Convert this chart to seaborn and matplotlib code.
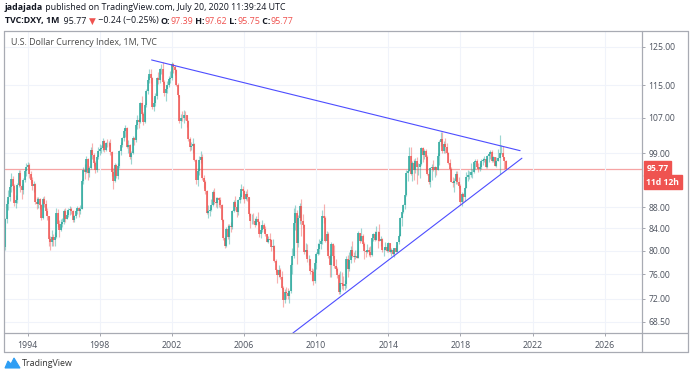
import numpy as np
import pandas as pd
import matplotlib
matplotlib.use("Agg")
import matplotlib.pyplot as plt
import matplotlib.transforms as mtransforms
from matplotlib.ticker import FixedLocator, FixedFormatter, NullLocator
from matplotlib.patches import Polygon
import seaborn as sns

# === monthly DXY candles, Oct 1992 .. Jul 2020 ===
start_month = "1992-10-01"
first_open = 80.6

close_px = [
    85.8, 88.7, 89.9,
    91.9, 93.6, 92.2, 88.9, 89.4, 92.4, 94.9, 92.1, 91.3, 93.3, 95.2, 96.1,
    96.5, 94.6, 93.3, 92.1, 92.6, 89.1, 88.7, 89.5, 88.4, 86.0, 89.5, 88.7,
    87.3, 86.3, 82.0, 81.6, 82.4, 81.9, 82.5, 86.9, 84.9, 83.8, 84.9, 85.2,
    87.3, 85.8, 86.5, 87.4, 87.6, 87.3, 85.6, 86.3, 87.3, 87.8, 87.2, 87.7,
    93.2, 95.5, 95.0, 97.8, 94.8, 95.9, 99.8, 98.7, 97.0, 95.4, 98.2, 99.6,
    99.9, 100.1, 101.8, 99.7, 101.3, 101.2, 101.3, 99.3, 95.0, 93.2, 96.5, 94.2,
    96.3, 99.5, 100.8, 102.3, 104.1, 104.6, 100.5, 100.8, 98.2, 99.0, 102.4, 101.9,
    105.3, 106.6, 106.1, 110.5, 108.0, 106.0, 110.1, 113.6, 116.2, 117.9, 116.8, 109.6,
    110.6, 112.3, 116.8, 116.4, 119.1, 119.2, 115.7, 112.9, 113.9, 115.0, 116.6, 116.8,
    120.4, 119.6, 118.8, 115.1, 112.4, 106.3, 107.1, 107.0, 107.8, 107.6, 106.4, 102.2,
    100.4, 100.6, 101.0, 97.6, 93.3, 95.2, 97.6, 98.3, 93.9, 92.9, 91.2, 86.9,
    87.3, 87.4, 88.5, 91.0, 89.1, 88.8, 89.8, 89.3, 88.4, 85.6, 82.2, 80.9,
    83.9, 82.5, 84.4, 84.2, 87.3, 89.1, 88.1, 87.1, 89.3, 89.9, 91.6, 91.2,
    89.6, 90.5, 89.9, 86.7, 85.4, 85.4, 85.3, 84.6, 85.8, 85.2, 82.9, 83.7,
    84.7, 83.9, 82.9, 81.6, 82.1, 81.9, 80.7, 80.9, 78.2, 76.7, 75.9, 76.7,
    75.5, 73.7, 71.8, 73.0, 72.9, 72.4, 73.2, 77.6, 79.0, 85.0, 86.8, 81.4,
    86.0, 88.3, 85.4, 84.6, 79.7, 80.1, 78.5, 78.5, 76.6, 76.3, 74.9, 77.9,
    79.5, 80.3, 81.1, 81.8, 86.4, 86.0, 81.7, 83.0, 79.0, 77.5, 81.1, 79.0,
    77.4, 76.8, 75.9, 73.0, 74.6, 74.3, 74.0, 74.3, 78.6, 76.8, 78.4, 80.2,
    79.1, 78.9, 79.0, 78.8, 83.2, 81.7, 82.6, 81.2, 79.9, 79.8, 80.1, 79.8,
    79.2, 82.2, 83.0, 81.9, 83.4, 83.3, 81.8, 82.1, 80.2, 80.2, 80.7, 80.0,
    81.3, 79.7, 80.1, 79.5, 80.4, 79.8, 81.5, 82.7, 86.0, 87.0, 88.4, 90.3,
    94.8, 95.3, 98.4, 94.6, 96.9, 95.5, 97.3, 96.0, 96.2, 96.8, 100.2, 98.6,
    99.6, 98.2, 94.6, 93.0, 95.9, 96.1, 95.5, 96.0, 95.4, 98.4, 101.5, 102.2,
    99.5, 101.1, 100.4, 99.1, 97.0, 95.6, 92.9, 92.7, 93.1, 94.6, 93.0, 92.1,
    89.1, 90.6, 90.0, 91.8, 94.0, 94.5, 94.5, 95.1, 95.1, 97.1, 97.3, 96.2,
    95.6, 96.2, 97.3, 97.5, 97.8, 96.1, 98.5, 98.9, 99.4, 97.4, 98.3, 96.4,
    97.4, 98.1, 99.0, 99.0, 98.3, 97.39, 95.77,
]
high_px = [
    86.0, 89.4, 91.4,
    92.6, 94.8, 94.3, 92.5, 90.4, 92.8, 95.5, 95.4, 92.6, 93.8, 95.6, 96.9,
    97.2, 96.9, 95.2, 94.0, 93.2, 92.8, 89.9, 90.0, 89.7, 88.6, 90.0, 90.2,
    89.4, 87.9, 86.4, 82.6, 83.8, 82.9, 83.4, 87.8, 87.6, 85.6, 85.7, 85.9,
    87.7, 87.8, 87.2, 87.9, 88.2, 88.0, 87.5, 86.6, 87.7, 88.3, 88.0, 88.4,
    93.6, 96.2, 96.7, 98.4, 98.1, 96.4, 100.5, 101.2, 99.2, 97.4, 98.6, 100.4,
    101.0, 100.9, 102.3, 101.9, 101.6, 102.2, 101.8, 102.1, 99.6, 95.8, 97.0, 96.8,
    96.9, 99.8, 101.4, 102.6, 104.6, 105.3, 104.9, 102.0, 101.0, 99.6, 102.8, 102.6,
    105.6, 107.6, 107.1, 110.7, 112.3, 108.3, 110.5, 114.0, 117.4, 119.2, 119.0, 117.0,
    112.1, 113.1, 117.1, 118.3, 119.5, 120.5, 121.0, 116.3, 114.9, 116.0, 117.2, 118.6,
    120.9, 120.8, 120.2, 119.0, 115.4, 112.6, 107.9, 108.6, 108.9, 108.6, 107.8, 106.6,
    102.7, 101.5, 102.5, 101.3, 97.9, 95.8, 98.5, 99.6, 98.8, 94.5, 93.4, 91.3,
    88.4, 88.1, 89.6, 91.4, 91.7, 89.9, 90.0, 90.0, 89.9, 88.6, 85.7, 82.6,
    84.3, 84.9, 84.8, 85.2, 87.5, 89.4, 90.1, 88.6, 89.6, 90.7, 92.6, 92.1,
    91.4, 91.2, 91.5, 90.0, 86.9, 86.7, 86.8, 85.9, 86.4, 87.1, 85.3, 84.6,
    85.5, 85.0, 84.4, 83.0, 82.6, 83.1, 82.0, 82.0, 81.0, 78.6, 76.9, 77.5,
    77.0, 76.5, 74.0, 73.5, 73.9, 73.7, 73.4, 77.9, 80.4, 87.9, 88.5, 87.4,
    86.5, 88.9, 89.6, 86.7, 84.9, 81.4, 81.2, 79.3, 78.5, 77.1, 76.9, 78.5,
    79.7, 81.3, 82.0, 82.3, 87.4, 88.7, 86.3, 83.5, 83.4, 79.4, 81.5, 81.4,
    81.0, 78.6, 77.2, 76.2, 76.5, 76.3, 75.7, 75.0, 79.1, 79.3, 79.8, 80.8,
    81.8, 79.7, 80.2, 80.1, 83.5, 83.0, 84.1, 83.0, 81.6, 80.2, 81.2, 80.6,
    80.8, 82.3, 83.2, 83.6, 84.5, 83.5, 84.8, 82.6, 82.3, 80.6, 81.5, 81.2,
    81.5, 81.4, 80.4, 80.3, 80.5, 81.0, 81.6, 82.9, 86.1, 87.1, 88.6, 90.4,
    95.5, 95.5, 100.4, 100.3, 97.3, 97.8, 98.1, 98.3, 96.9, 97.8, 100.5, 100.5,
    100.0, 99.9, 98.6, 95.1, 96.0, 96.7, 97.6, 96.3, 96.1, 99.1, 102.0, 103.7,
    103.8, 101.8, 102.3, 101.3, 99.3, 97.8, 96.0, 94.1, 93.8, 95.2, 95.2, 94.0,
    92.5, 90.9, 90.7, 91.9, 95.0, 95.5, 95.2, 96.9, 95.7, 97.2, 97.7, 97.7,
    96.9, 97.0, 97.7, 98.0, 98.4, 97.8, 98.7, 99.0, 99.7, 99.7, 98.5, 98.3,
    98.2, 99.9, 103.0, 100.9, 100.6, 98.3, 97.62,
]
low_px = [
    80.2, 85.0, 87.5,
    89.2, 91.0, 91.3, 88.3, 87.9, 88.8, 92.0, 91.0, 89.6, 90.5, 93.0, 94.2,
    95.4, 93.9, 92.8, 91.4, 90.9, 88.7, 87.6, 87.9, 87.7, 85.6, 85.8, 88.1,
    86.5, 85.6, 80.9, 80.1, 80.9, 80.9, 80.9, 82.3, 84.3, 82.5, 83.5, 84.3,
    84.9, 85.2, 85.7, 86.2, 86.6, 86.7, 85.2, 85.1, 85.9, 86.7, 86.1, 86.7,
    87.6, 92.5, 93.6, 94.9, 93.3, 94.0, 95.7, 97.9, 96.3, 94.9, 95.0, 97.8,
    98.6, 99.0, 99.6, 99.3, 99.6, 100.5, 100.7, 98.7, 94.3, 91.6, 93.0, 93.8,
    93.6, 95.9, 98.6, 100.4, 101.7, 102.7, 100.1, 99.2, 97.9, 96.8, 98.8, 100.9,
    101.5, 104.5, 104.7, 105.8, 107.7, 105.3, 105.8, 109.5, 112.8, 115.5, 115.6, 109.1,
    108.6, 109.9, 111.6, 115.3, 115.6, 117.8, 115.2, 112.3, 111.0, 113.1, 114.5, 115.5,
    116.3, 118.1, 117.5, 114.8, 112.0, 105.8, 104.7, 106.2, 105.9, 106.5, 104.9, 101.8,
    99.5, 99.7, 99.0, 97.3, 92.6, 92.1, 94.5, 96.9, 93.5, 91.7, 90.6, 86.7,
    85.9, 86.3, 87.2, 88.2, 88.6, 88.0, 87.9, 88.1, 87.8, 85.3, 81.9, 80.4,
    80.6, 82.0, 81.2, 83.3, 83.9, 87.0, 87.5, 86.1, 86.6, 88.8, 89.6, 89.6,
    88.9, 89.4, 89.2, 86.4, 84.0, 84.9, 84.8, 84.3, 84.7, 84.9, 82.4, 82.2,
    83.3, 83.4, 82.6, 81.5, 81.4, 81.7, 79.9, 80.2, 78.0, 76.3, 74.6, 75.5,
    75.2, 73.6, 70.7, 71.3, 72.0, 71.9, 71.3, 72.9, 76.0, 78.7, 83.7, 77.7,
    80.7, 84.8, 82.6, 84.1, 79.4, 79.0, 78.1, 77.5, 76.0, 74.9, 74.2, 74.5,
    76.8, 79.2, 79.5, 80.3, 81.2, 85.0, 81.5, 80.1, 78.7, 75.6, 75.6, 78.8,
    77.0, 76.6, 75.3, 72.8, 72.7, 73.5, 73.4, 73.4, 73.8, 75.6, 76.5, 77.9,
    78.9, 78.1, 78.6, 78.7, 78.9, 81.3, 82.0, 80.9, 78.6, 78.9, 79.6, 79.0,
    78.9, 79.1, 81.8, 81.7, 81.9, 80.5, 81.7, 80.9, 79.8, 79.0, 80.1, 79.7,
    79.8, 79.6, 79.1, 79.3, 78.9, 79.7, 79.8, 81.2, 82.6, 84.5, 86.8, 87.6,
    90.1, 93.2, 95.2, 94.5, 93.1, 93.5, 94.9, 92.6, 94.4, 93.8, 96.5, 97.2,
    97.8, 95.2, 94.5, 92.6, 91.9, 93.4, 95.2, 94.0, 94.4, 95.5, 96.6, 100.6,
    99.2, 99.2, 99.0, 98.8, 96.8, 95.5, 92.9, 91.9, 91.0, 92.6, 92.5, 91.8,
    88.4, 88.3, 89.1, 89.2, 91.7, 93.2, 93.7, 94.1, 93.8, 94.8, 95.7, 95.8,
    95.0, 95.2, 95.7, 96.5, 97.1, 95.8, 95.8, 97.1, 97.9, 97.1, 97.1, 96.4,
    96.2, 97.3, 94.6, 98.8, 97.9, 95.7, 95.75,
]

# trendlines drawn on the chart (year, price)
upper_x = [2000.87, 2021.31]
upper_y = [121.5, 99.6]
lower_x = [2008.71, 2021.41]
lower_y = [66.8, 97.97]

price_ticks = [68.5, 72, 76, 80, 84, 88, 99, 107, 115, 125]
year_ticks = [1994, 1998, 2002, 2006, 2010, 2014, 2018, 2022, 2026]

UP = "#26a69a"
DOWN = "#ef5350"
BLUE = "#4d4dff"
W, H = 690, 379

sns.set_style("white")
plt.rcParams["font.family"] = ["Open Sans", "DejaVu Sans"]

df = pd.DataFrame({
    "date": pd.date_range(start_month, periods=len(close_px), freq="MS"),
    "close": close_px, "high": high_px, "low": low_px,
})
df["open"] = df["close"].shift(1)
df.loc[0, "open"] = first_open
df["high"] = df[["high", "open", "close"]].max(axis=1)
df["low"] = df[["low", "open", "close"]].min(axis=1)
df["t"] = df["date"].dt.year + (df["date"].dt.month - 1) / 12
df["col"] = np.where(df["close"] >= df["open"], UP, DOWN)


def fx(px):
    return px / W


def fy(py):
    return 1 - py / H


fig = plt.figure(figsize=(W / 100, H / 100), dpi=100)
ax = fig.add_axes([fx(5), fy(333), fx(642) - fx(5), fy(30.5) - fy(333)])

ax.set_yscale("log")
ax.set_ylim(66.8, 129.6)
ax.set_xlim(1992.74, 2028.07)

# candles
ax.vlines(df["t"], df["low"], df["high"], colors=df["col"], alpha=0.45, lw=0.85)
ax.vlines(df["t"], df[["open", "close"]].min(axis=1), df[["open", "close"]].max(axis=1),
          colors=df["col"], lw=1.1)

last = df["close"].iloc[-1]
ax.axhline(last, color="#f6a4a4", lw=0.9, zorder=0.5)

sns.lineplot(x=upper_x, y=upper_y, ax=ax, color=BLUE, lw=0.8)
sns.lineplot(x=lower_x, y=lower_y, ax=ax, color=BLUE, lw=0.8)

# axes styling
ax.yaxis.set_major_locator(FixedLocator(price_ticks))
ax.yaxis.set_major_formatter(FixedFormatter([f"{p:.2f}" for p in price_ticks]))
ax.yaxis.set_minor_locator(NullLocator())
ax.set_xticks(year_ticks)
ax.set_xticklabels([str(y) for y in year_ticks])
ax.grid(True, color="#f0f3fa", lw=0.8)
ax.set_axisbelow(True)
for s in ax.spines.values():
    s.set_visible(False)
ax.tick_params(axis="y", left=False, right=True, labelleft=False, labelright=True,
               length=2.5, width=0.6, color="#9598a1", labelsize=6.2,
               labelcolor="#4c525e", pad=2)
ax.tick_params(axis="x", bottom=True, length=2.5, width=0.6, color="#9598a1",
               labelsize=6.3, labelcolor="#4c525e", pad=3)
ax.set_xlabel("")
ax.set_ylabel("")

ax.text(0.0095, 0.96, "U.S. Dollar Currency Index, 1M, TVC",
        transform=ax.transAxes, fontsize=6.4, color="#4a4a4a", va="center", ha="left")

# price labels on the right scale
trans = mtransforms.blended_transform_factory(ax.transAxes, ax.transData)
ax.text(1.007, last, f"{last:.2f}", transform=trans, ha="left", va="center", color="white",
        fontsize=6.2, fontweight="bold",
        bbox=dict(boxstyle="square,pad=0.3", fc=DOWN, ec=DOWN))
ax.annotate("11d 12h", xy=(1.007, last), xycoords=trans, xytext=(0, -9.8),
            textcoords="offset points", ha="left", va="center", color="white",
            fontsize=6.2, fontweight="bold",
            bbox=dict(boxstyle="square,pad=0.3", fc=DOWN, ec=DOWN))

# frame lines
frame = "#a8abb3"
for xs, ys in [([4, 688], [30.5, 30.5]), ([4, 688], [352, 352]), ([4, 4], [30.5, 352]),
               ([688, 688], [30.5, 352]), ([642, 642], [30.5, 352]), ([4, 688], [333, 333])]:
    fig.add_artist(plt.Line2D([fx(v) for v in xs], [fy(v) for v in ys],
                              color=frame, lw=0.9, transform=fig.transFigure))

# header
renderer = fig.canvas.get_renderer()


def write_row(x_px, y_px, parts, size=6.4):
    x = x_px
    for s, color, weight in parts:
        t = fig.text(fx(x), fy(y_px), s, color=color, fontweight=weight, fontsize=size,
                     va="center", ha="left")
        x += t.get_window_extent(renderer=renderer).width


ink = "#131722"
write_row(5, 8, [("jadajada", ink, "bold"),
                 (" published on TradingView.com, July 20, 2020 11:39:24 UTC", ink, "normal")])
write_row(5, 21, [("TVC:DXY, 1M", ink, "bold"), ("  95.77 ", ink, "normal"),
                  ("▼", DOWN, "normal"), (" −0.24 (−0.25%) ", ink, "normal"),
                  ("O:", ink, "bold"), ("97.39", DOWN, "normal"),
                  (" H:", ink, "bold"), ("97.62", DOWN, "normal"),
                  (" L:", ink, "bold"), ("95.75", DOWN, "normal"),
                  (" C:", ink, "bold"), ("95.77", DOWN, "normal")])

# TradingView logo
logo = [(5, 368), (8, 361), (11, 364), (14, 358), (20, 368)]
fig.add_artist(Polygon([(fx(a), fy(b)) for a, b in logo], closed=True, fc="#2e9ef4",
                       ec="#2e9ef4", lw=0.8, transform=fig.transFigure))
fig.text(fx(22), fy(363.5), "TradingView", fontsize=6.4, color="#333333", va="center", ha="left")

fig.savefig("out.png", dpi=100)
